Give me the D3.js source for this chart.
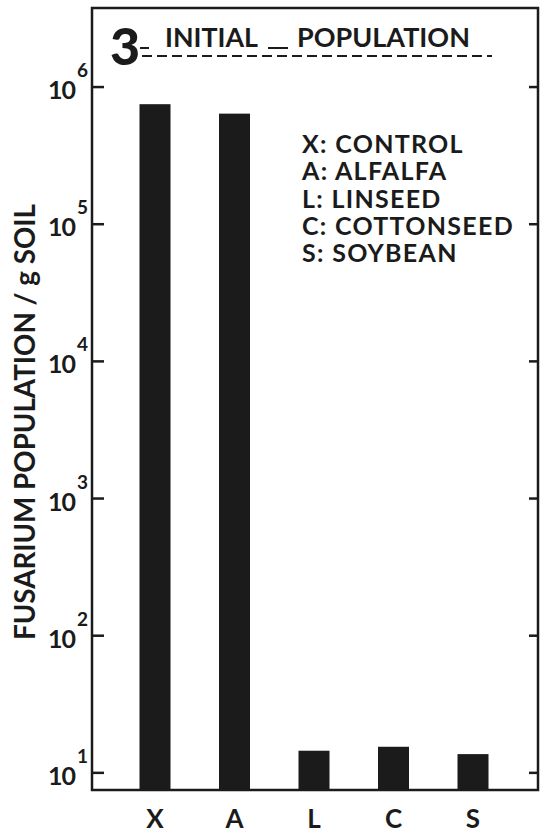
<!DOCTYPE html>
<html>
<head>
<meta charset="utf-8">
<script src="https://cdn.jsdelivr.net/npm/d3@7"></script>
<style>
  body { margin: 0; background: #fff; }
  text { font-family: Lato, "DejaVu Sans", sans-serif; font-weight: 700; fill: #1b1b1b; }
</style>
</head>
<body>
<div id="chart"></div>
<script>
// data (Fusarium population per g soil, log scale)
const categories = ["X", "A", "L", "C", "S"];
const populations = [7.5e5, 6.4e5, 14.5, 15.5, 13.7];
const legendCodes = ["X", "A", "L", "C", "S"];
const legendNames = ["CONTROL", "ALFALFA", "LINSEED", "COTTONSEED", "SOYBEAN"];
const tickExponents = [1, 2, 3, 4, 5, 6];

const W = 545, H = 834;
const margin = {top: 8, right: 7, bottom: 44, left: 92};
const width = W - margin.left - margin.right;
const height = H - margin.top - margin.bottom;

const svg = d3.select("#chart")
  .append("svg")
  .attr("width", W)
  .attr("height", H);

const g = svg.append("g")
  .attr("transform", "translate(" + margin.left + "," + margin.top + ")");

// scales
const y = d3.scaleLog()
  .domain([7.5, 3.77e6])
  .range([height, 0]);

const x = d3.scalePoint()
  .domain(categories)
  .range([63, 381]);

const barW = 31;
const ink = "#1b1b1b";

// bars
g.selectAll("rect.bar")
  .data(categories.map((c, i) => ({cat: c, v: populations[i]})))
  .enter()
  .append("rect")
  .attr("class", "bar")
  .attr("x", d => x(d.cat) - barW / 2)
  .attr("y", d => y(d.v))
  .attr("width", barW)
  .attr("height", d => height - y(d.v))
  .attr("fill", ink);

// frame
g.append("rect")
  .attr("x", 0)
  .attr("y", 0)
  .attr("width", width)
  .attr("height", height)
  .attr("fill", "none")
  .attr("stroke", ink)
  .attr("stroke-width", 2.5);

const tickVals = tickExponents.map(e => Math.pow(10, e));

// inward ticks on both sides of the frame
g.selectAll("line.ltick")
  .data(tickVals)
  .enter()
  .append("line")
  .attr("class", "ltick")
  .attr("x1", 0).attr("x2", 12)
  .attr("y1", d => y(d)).attr("y2", d => y(d))
  .attr("stroke", ink)
  .attr("stroke-width", 2.5);

g.selectAll("line.rtick")
  .data(tickVals)
  .enter()
  .append("line")
  .attr("class", "rtick")
  .attr("x1", width - 9).attr("x2", width)
  .attr("y1", d => y(d)).attr("y2", d => y(d))
  .attr("stroke", ink)
  .attr("stroke-width", 2.5);

// tick labels "10" with superscript exponent
const tl = g.selectAll("g.tlab")
  .data(tickExponents)
  .enter()
  .append("g")
  .attr("class", "tlab")
  .attr("transform", e => "translate(0," + y(Math.pow(10, e)) + ")");
tl.append("text")
  .attr("x", -17)
  .attr("y", 12)
  .attr("text-anchor", "end")
  .style("font-size", "25px")
  .style("letter-spacing", "-1px")
  .text("10");
tl.append("text")
  .attr("x", -15)
  .attr("y", -10)
  .style("font-size", "19px")
  .text(e => e);

// x category labels
g.append("g")
  .selectAll("text")
  .data(categories)
  .enter()
  .append("text")
  .attr("x", d => x(d))
  .attr("y", height + 38)
  .attr("text-anchor", "middle")
  .style("font-size", "26px")
  .text(d => d);

// y axis title
svg.append("text")
  .attr("transform", "translate(35," + 422 + ") rotate(-90)")
  .attr("text-anchor", "middle")
  .attr("textLength", 436)
  .attr("lengthAdjust", "spacingAndGlyphs")
  .style("font-size", "28px")
  .text("FUSARIUM POPULATION  /  g SOIL");

// panel number and title
svg.append("text")
  .attr("x", 110)
  .attr("y", 65)
  .style("font-size", "52px")
  .style("font-weight", 900)
  .text("3");

svg.append("text")
  .attr("x", 165)
  .attr("y", 47)
  .attr("textLength", 93)
  .attr("lengthAdjust", "spacingAndGlyphs")
  .style("font-size", "26px")
  .text("INITIAL");

svg.append("text")
  .attr("x", 297)
  .attr("y", 47)
  .attr("textLength", 173)
  .attr("lengthAdjust", "spacingAndGlyphs")
  .style("font-size", "26px")
  .text("POPULATION");

svg.append("line")
  .attr("x1", 142).attr("x2", 492)
  .attr("y1", 56).attr("y2", 56)
  .attr("stroke", ink)
  .attr("stroke-width", 2)
  .attr("stroke-dasharray", "10,5");

svg.append("line")
  .attr("x1", 140).attr("x2", 149)
  .attr("y1", 48).attr("y2", 48)
  .attr("stroke", ink).attr("stroke-width", 2);
svg.append("line")
  .attr("x1", 268).attr("x2", 288)
  .attr("y1", 48).attr("y2", 48)
  .attr("stroke", ink).attr("stroke-width", 2);

// legend
const leg = svg.append("g").attr("transform", "translate(302,153)");
leg.selectAll("text")
  .data(legendCodes)
  .enter()
  .append("text")
  .attr("y", (d, i) => i * 27.3)
  .style("font-size", "25px")
  .style("letter-spacing", "1.3px")
  .text((d, i) => d + ": " + legendNames[i]);
</script>
</body>
</html>
